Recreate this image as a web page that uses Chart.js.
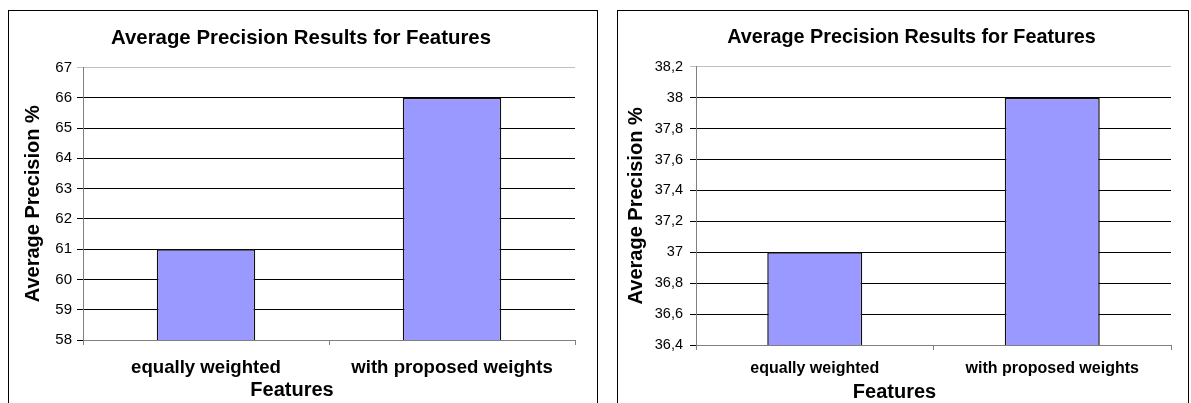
<!DOCTYPE html>
<html>
<head>
<meta charset="utf-8">
<title>Average Precision Results for Features</title>
<script src="https://cdn.jsdelivr.net/npm/chart.js@4.4.1/dist/chart.umd.min.js"></script>
<style>
  html, body { margin: 0; padding: 0; background: #fff; overflow: hidden; }
  .box { position: absolute; top: 10px; height: 420px; border: 1px solid #000; box-sizing: border-box; background: #fff; }
  #box-left { left: 8px; width: 590px; }
  #box-right { left: 617px; width: 572px; }
  canvas { position: absolute; left: 0; top: 0; }
</style>
</head>
<body>
<div class="box" id="box-left"><canvas id="chartLeft" width="588" height="395"></canvas></div>
<div class="box" id="box-right"><canvas id="chartRight" width="570" height="395"></canvas></div>
<script>
// Data
const categories = ['equally weighted', 'with proposed weights'];
const leftValues = [61, 66];
const rightValues = [37, 38];
const leftTickLabels = ['58', '59', '60', '61', '62', '63', '64', '65', '66', '67'];
const rightTickLabels = ['36,4', '36,6', '36,8', '37', '37,2', '37,4', '37,6', '37,8', '38', '38,2'];

const FONT = "'Liberation Sans', Arial, sans-serif";

// Excel centres the chart title on the whole box, nudge it to match
const titleShift = {
  id: 'titleShift',
  afterLayout(chart, args, opts) {
    if (chart.titleBlock) chart.titleBlock.left += 2 * (opts.shift || 0);
  }
};

function makeChart(id, values, tickLabels, opt) {
  const ctx = document.getElementById(id).getContext('2d');
  return new Chart(ctx, {
    type: 'bar',
    data: {
      labels: categories,
      datasets: [{
        data: values,
        backgroundColor: '#9999ff',
        borderColor: '#111',
        borderWidth: 1.5,
        borderSkipped: false,
        categoryPercentage: 1,
        barPercentage: 0.4
      }]
    },
    plugins: [titleShift],
    options: {
      responsive: false,
      animation: false,
      layout: { padding: { left: 0, right: opt.padRight, top: 0, bottom: opt.padBottom } },
      plugins: {
        legend: { display: false },
        tooltip: { enabled: false },
        titleShift: { shift: opt.titleShift },
        title: {
          display: true,
          text: 'Average Precision Results for Features',
          color: '#000',
          font: { family: FONT, size: opt.titleSize, weight: 'bold' },
          padding: { top: 15, bottom: 17 }
        },
        subtitle: {
          display: true,
          position: 'bottom',
          text: 'Features',
          color: '#000',
          font: { family: FONT, size: 20, weight: 'bold' },
          padding: 0
        }
      },
      scales: {
        x: {
          grid: { drawOnChartArea: false, color: '#808080', tickLength: 5, offset: true },
          border: { color: '#808080' },
          ticks: {
            color: '#000',
            font: { family: FONT, size: opt.catSize, weight: 'bold' },
            padding: opt.catPad,
            maxRotation: 0,
            autoSkip: false
          },
          afterFit: s => { s.height = opt.xHeight; }
        },
        y: {
          min: opt.min,
          max: opt.max,
          ticks: {
            stepSize: opt.step,
            callback: (v, i) => tickLabels[i],
            color: '#000',
            font: { family: FONT, size: opt.tickSize },
            padding: opt.tickPad
          },
          grid: {
            color: c => (c.tick && Math.abs(c.tick.value - opt.max) < 1e-6) ? '#c0c0c0' : '#000',
            tickLength: 6
          },
          border: { color: '#808080' },
          title: {
            display: true,
            text: 'Average Precision %',
            color: '#000',
            font: { family: FONT, size: 20, weight: 'bold' },
            padding: { top: opt.yTitlePad, bottom: 0 }
          },
          afterFit: s => { s.width = opt.yWidth; }
        }
      }
    }
  });
}

makeChart('chartLeft', leftValues, leftTickLabels, {
  min: 58, max: 67, step: 1,
  yWidth: 74, padRight: 22, padBottom: 4, xHeight: 38,
  titleSize: 20.4, titleShift: 9,
  catSize: 18.6, catPad: 12, tickSize: 15, tickPad: 5, yTitlePad: 12
});

makeChart('chartRight', rightValues, rightTickLabels, {
  min: 36.4, max: 38.2, step: 0.2,
  yWidth: 78, padRight: 17, padBottom: 2, xHeight: 35,
  titleSize: 19.8, titleShift: 17,
  catSize: 16, catPad: 9, tickSize: 14.5, tickPad: 7, yTitlePad: 6
});
</script>
</body>
</html>
